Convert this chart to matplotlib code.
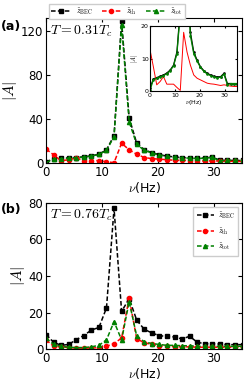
import numpy as np
import matplotlib
matplotlib.use("Agg")
import matplotlib.pyplot as plt
from matplotlib.ticker import MultipleLocator

plt.rcParams['mathtext.fontset'] = 'cm'
plt.rcParams['font.family'] = 'DejaVu Sans'

# frequency grid (Hz), spacing ~1.35 Hz
df = 1.35
nu = np.arange(27) * df

# panel (a): T = 0.31 Tc
a_bec = [1.0, 3.8, 4.2, 4.6, 5.0, 5.6, 6.5, 8.0, 12.0, 25.0, 129.0, 41.0, 18.0,
         12.0, 9.5, 7.5, 6.3, 5.5, 5.0, 4.6, 4.4, 4.5, 5.5, 2.4, 2.4, 2.3, 2.3]
a_th = [12.7, 7.5, 2.0, 3.0, 4.5, 2.2, 2.2, 2.2, 1.2, 0.3, 18.0, 12.0, 8.0,
        5.0, 4.0, 3.5, 3.0, 2.5, 2.3, 2.2, 2.0, 1.8, 2.0, 1.8, 1.6, 1.5, 1.5]
a_tot = [0.3, 3.6, 4.0, 4.4, 4.8, 5.4, 6.3, 7.8, 11.5, 24.0, 126.0, 37.5, 17.0,
         11.5, 9.2, 7.3, 6.1, 5.3, 4.8, 4.4, 4.2, 4.3, 5.2, 2.0, 2.4, 2.4, 2.4]

# panel (b): T = 0.76 Tc
b_bec = [7.9, 3.7, 2.0, 2.5, 5.1, 7.4, 10.4, 11.8, 22.5, 77.0, 20.6, 27.6, 15.8,
         10.8, 8.8, 7.3, 6.9, 6.6, 5.5, 7.0, 3.7, 2.9, 2.9, 2.7, 2.4, 2.4, 2.4]
b_th = [5.0, 1.5, 1.2, 0.8, 0.5, 0.5, 0.5, 0.8, 1.5, 3.0, 6.0, 28.0, 5.5,
        3.5, 2.5, 1.8, 1.5, 1.3, 1.2, 1.2, 1.0, 1.0, 1.0, 1.0, 1.0, 1.0, 1.0]
b_tot = [6.0, 2.5, 1.5, 1.0, 0.8, 0.8, 1.2, 2.0, 5.0, 15.0, 5.0, 26.0, 7.0,
         4.0, 3.0, 2.5, 2.0, 2.0, 1.8, 1.8, 1.5, 1.5, 1.5, 1.5, 1.5, 1.5, 1.5]

labels = [r'$\tilde{z}_{\rm BEC}$', r'$\tilde{z}_{\rm th}$', r'$\tilde{z}_{\rm tot}$']
colors = ['black', 'red', 'green']
markers = ['s', 'o', '^']

fig = plt.figure(figsize=(2.5, 3.84), dpi=100)
ax1 = fig.add_axes([0.184, 0.5755, 0.784, 0.3775])
ax2 = fig.add_axes([0.184, 0.0911, 0.784, 0.3803])


def draw(ax, series):
    lines = []
    for y, c, m, lab in zip(series, colors, markers, labels):
        l, = ax.plot(nu, y, ls='--', color=c, marker=m, ms=3.0, lw=1.1,
                     dashes=(3, 1.5), label=lab)
        lines.append(l)
    ax.set_xlim(0, 35)
    ax.xaxis.set_major_locator(MultipleLocator(10))
    ax.tick_params(direction='in', top=True, right=True, labelsize=8.5,
                   length=3, pad=2)
    ax.set_xlabel(r'$\nu$(Hz)', fontsize=9, labelpad=1)
    ax.set_ylabel(r'$|A|$', fontsize=11, labelpad=1)
    return lines


lines = draw(ax1, [a_bec, a_th, a_tot])
ax1.set_ylim(0, 132)
ax1.yaxis.set_major_locator(MultipleLocator(40))
ax1.text(0.02, 0.96, r'$T=0.31T_c$', transform=ax1.transAxes, fontsize=10,
         va='top', ha='left')
fig.text(0.005, 0.93, '(a)', fontsize=9, fontweight='bold', va='center')
fig.legend(handles=lines, loc='upper left', bbox_to_anchor=(0.18, 1.0),
           ncol=3, fontsize=5.5, handlelength=2.6, columnspacing=1.2,
           handletextpad=0.6, borderpad=0.3, frameon=True, fancybox=False,
           edgecolor='0.8', framealpha=1)

lines2 = draw(ax2, [b_bec, b_th, b_tot])
ax2.set_ylim(0, 80)
ax2.yaxis.set_major_locator(MultipleLocator(20))
ax2.text(0.02, 0.97, r'$T=0.76T_c$', transform=ax2.transAxes, fontsize=10,
         va='top', ha='left')
fig.text(0.005, 0.455, '(b)', fontsize=9, fontweight='bold', va='center')
ax2.legend(loc='upper right', fontsize=5.5, handlelength=2.2,
           handletextpad=0.5, borderpad=0.5, labelspacing=0.6,
           fancybox=False, edgecolor='0.8', framealpha=1)

# inset of panel (a)
axin = fig.add_axes([0.6, 0.762, 0.349, 0.171])
axin.plot(nu, a_bec, '-', color='black', lw=0.9, marker='s', ms=0.8)
axin.plot(nu, a_th, '-', color='red', lw=0.7)
axin.plot(nu, a_tot, '-', color='green', lw=0.9, marker='s', ms=0.8)
axin.set_xlim(0, 35)
axin.set_ylim(0, 20)
axin.xaxis.set_major_locator(MultipleLocator(10))
axin.yaxis.set_major_locator(MultipleLocator(10))
axin.tick_params(direction='in', top=True, right=True, labelsize=4.5,
                 length=1.5, pad=1)
axin.set_xlabel(r'$\nu$(Hz)', fontsize=4.5, labelpad=0.5)
axin.set_ylabel(r'$|A|$', fontsize=4.5, labelpad=0.5)

fig.savefig('out.png', dpi=100)
